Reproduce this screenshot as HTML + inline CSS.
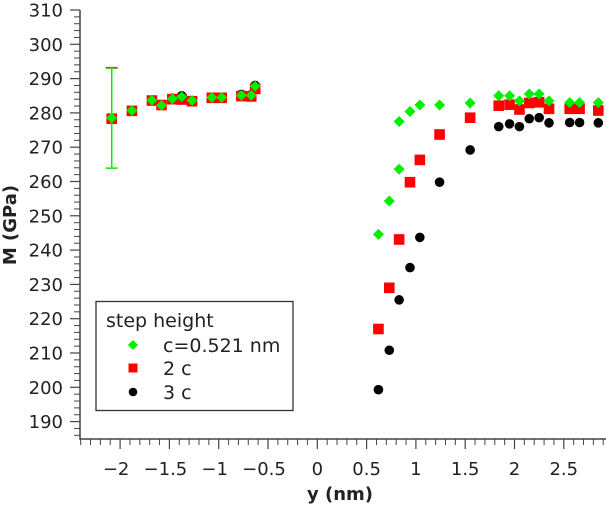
<!DOCTYPE html>
<html><head><meta charset="utf-8"><style>
html,body{margin:0;padding:0;background:#fff;}
svg{display:block;font-family:"DejaVu Sans","Liberation Sans",sans-serif;}
</style></head><body>
<svg id="chart" width="606" height="509" viewBox="0 0 606 509"></svg>
<script>
const xLeft=[-2.085,-1.88,-1.677,-1.58,-1.47,-1.375,-1.27,-1.07,-0.97,-0.77,-0.67,-0.63];
const leftGreen=[278.5,280.7,283.7,282.2,284.1,284.7,283.6,284.5,284.5,285.1,285.1,287.8];
const leftRed=[278.3,280.6,283.6,282.3,284.0,283.9,283.4,284.4,284.4,284.9,284.8,287.0];
const leftBlack=[278.5,280.7,283.7,282.2,284.3,285.0,283.6,284.6,284.6,285.4,285.3,288.0];
const xGreenR=[0.62,0.73,0.83,0.83,0.94,1.04,1.24,1.55,1.84,1.95,2.05,2.15,2.25,2.35,2.56,2.66,2.85];
const greenR=[244.6,254.3,263.6,277.5,280.4,282.3,282.3,282.9,285,285,283.5,285.5,285.5,283.5,283,283,283];
const xR=[0.62,0.73,0.83,0.94,1.04,1.24,1.55,1.84,1.95,2.05,2.15,2.25,2.35,2.56,2.66,2.85];
const redR=[217,229,243.1,259.8,266.3,273.7,278.6,282.1,282.4,281,282.9,283.1,281.2,281.2,281.2,280.7];
const blackR=[199.3,210.8,225.5,234.9,243.7,259.8,269.2,276,276.8,276,278.3,278.6,277.1,277.2,277.2,277.1];
const errLow=[263.9], errHigh=[293.2];
const xTicks=[-2,-1.5,-1,-0.5,0,0.5,1,1.5,2,2.5];
const xTickLabels=["\u22122","\u22121.5","\u22121","\u22120.5","0","0.5","1","1.5","2","2.5"];
const yTicks=[190,200,210,220,230,240,250,260,270,280,290,300,310];

const NS="http://www.w3.org/2000/svg";
const svg=document.getElementById('chart');
const X=v=>317.3+v*98.6;
const Y=v=>10+(310-v)*3.43;
function mk(tag,attrs,parent){const e=document.createElementNS(NS,tag);for(const k in attrs)e.setAttribute(k,attrs[k]);(parent||svg).appendChild(e);return e;}

const axes=mk('g',{});


const ls=mk('line',{x1:80,y1:10,x2:80,y2:439.5,stroke:'#444','stroke-width':1.5},axes);


const bs=mk('line',{x1:79.3,y1:439,x2:606,y2:439,stroke:'#444','stroke-width':1.5},axes);


// y minor ticks
for(let v=186;v<=310;v+=2){if(v%10===0)continue;mk('line',{x1:74,y1:Y(v),x2:80,y2:Y(v),stroke:'#444','stroke-width':1},axes);}
yTicks.forEach(v=>{
  mk('line',{x1:70,y1:Y(v),x2:80,y2:Y(v),stroke:'#444','stroke-width':1.2},axes);
  const t=mk('text',{x:63,y:Y(v)+6.5,'text-anchor':'end','font-size':18,fill:'#222'},axes);
  t.textContent=v;
  
  
});
// x minor ticks
for(let i=-24;i<=29;i++){if(i%5===0)continue;const x=X(i/10);if(x<80)continue;mk('line',{x1:x,y1:439,x2:x,y2:445,stroke:'#444','stroke-width':1},axes);}
xTicks.forEach((v,i)=>{
  mk('line',{x1:X(v),y1:439,x2:X(v),y2:449,stroke:'#444','stroke-width':1.2},axes);
  const t=mk('text',{x:X(v)-(xTickLabels[i][0]==='\u2212'?4:0),y:475,'text-anchor':'middle','font-size':18,fill:'#222'},axes);
  t.textContent=xTickLabels[i];
  
  
});
const xt=mk('text',{x:340,y:500,'text-anchor':'middle','font-size':18,'font-weight':'bold',fill:'#222'});
xt.textContent='y (nm)';


const yt=mk('text',{x:0,y:0,'text-anchor':'middle','font-size':18,'font-weight':'bold',fill:'#222',transform:'translate(16,225) rotate(-90)'});
yt.textContent='M (GPa)';



function circle(x,y,g){const c=mk('circle',{cx:X(x),cy:Y(y),r:4.8,fill:'#000'},g);}
function square(x,y,g){const c=mk('rect',{x:X(x)-5.3,y:Y(y)-5.3,width:10.6,height:10.6,fill:'#f00'},g);}
function diamond(x,y,g){const cx=X(x),cy=Y(y),r=5.5;const c=mk('polygon',{points:`${cx},${cy-r} ${cx+r},${cy} ${cx},${cy+r} ${cx-r},${cy}`,fill:'#0e0'},g);}

const gB=mk('g',{});
const gR=mk('g',{});
const gG=mk('g',{});
xLeft.forEach((x,i)=>circle(x,leftBlack[i],gB));
xR.forEach((x,i)=>circle(x,blackR[i],gB));
// error bar caps behind (orange-ish red)
mk('line',{x1:X(xLeft[0])-6,y1:Y(errHigh[0]),x2:X(xLeft[0])+6,y2:Y(errHigh[0]),stroke:'#e04020','stroke-width':1.5},gR);
xLeft.forEach((x,i)=>square(x,leftRed[i],gR));
xR.forEach((x,i)=>square(x,redR[i],gR));
const eb=mk('g',{},gG);
mk('line',{x1:X(xLeft[0]),y1:Y(errHigh[0]),x2:X(xLeft[0]),y2:Y(errLow[0]),stroke:'#0e0','stroke-width':1.5},eb);
mk('line',{x1:X(xLeft[0])-6,y1:Y(errLow[0]),x2:X(xLeft[0])+6,y2:Y(errLow[0]),stroke:'#0e0','stroke-width':1.5},eb);
mk('line',{x1:X(xLeft[0])-6,y1:Y(errHigh[0])+1,x2:X(xLeft[0])+6,y2:Y(errHigh[0])+1,stroke:'#4c4','stroke-width':1},eb);
xLeft.forEach((x,i)=>diamond(x,leftGreen[i],gG));
xGreenR.forEach((x,i)=>diamond(x,greenR[i],gG));

// legend
const lg=mk('g',{});
mk('rect',{x:96,y:301.5,width:197,height:109,fill:'#fff',stroke:'#333','stroke-width':1.3},lg);
const lt=mk('text',{x:106,y:327,'font-size':19,fill:'#222'},lg);lt.textContent='step height';

const entries=[['c=0.521 nm',352,'d'],['2 c',375,'s'],['3 c',399,'c']];
entries.forEach(([txt,by,kind])=>{
  const e=mk('g',{},lg);
  
  
  const my=by-7;
  if(kind==='d'){mk('polygon',{points:`133,${my-5} 138,${my} 133,${my+5} 128,${my}`,fill:'#0e0'},e);}
  else if(kind==='s'){mk('rect',{x:128.5,y:my-4.5,width:9,height:9,fill:'#f00'},e);}
  else{mk('circle',{cx:133,cy:my,r:4.3,fill:'#000'},e);}
  const t=mk('text',{x:163,y:by,'font-size':19,fill:'#222'},e);t.textContent=txt;
});
</script>
</body></html>
